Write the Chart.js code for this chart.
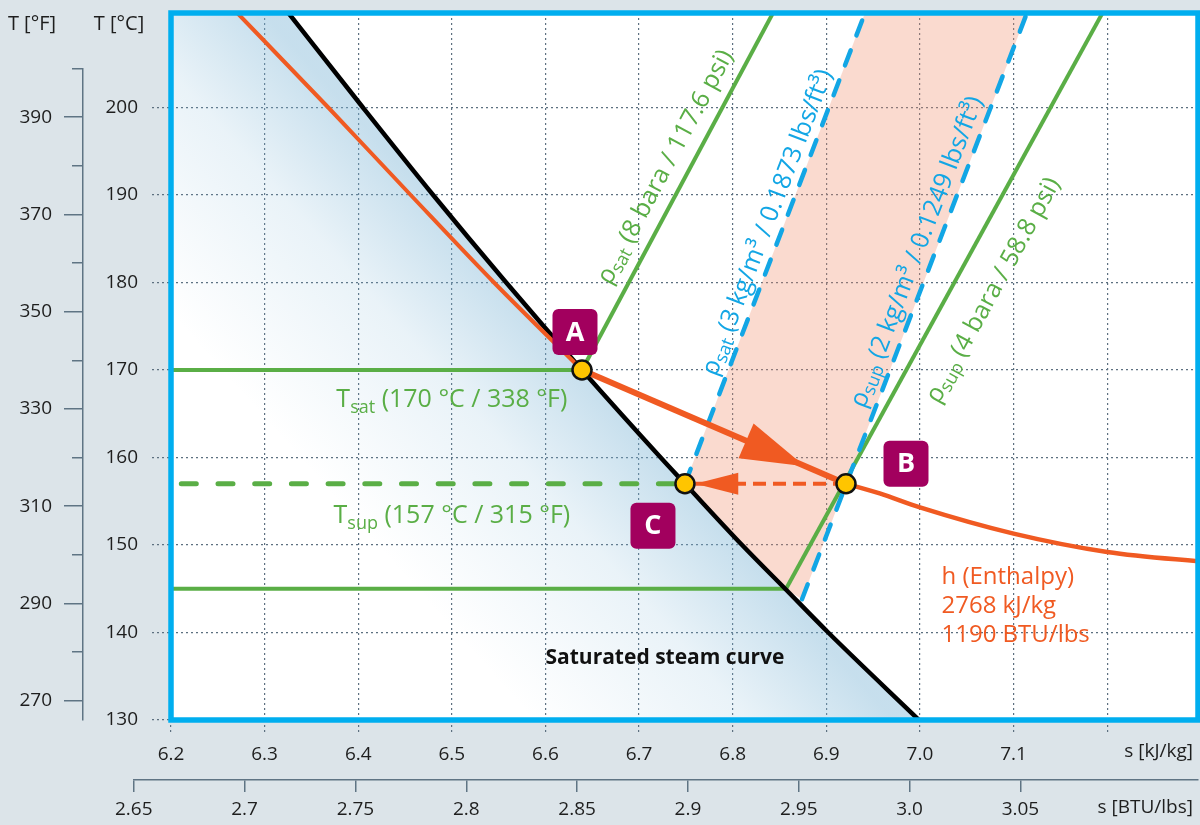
<!DOCTYPE html>
<html>
<head>
<meta charset="utf-8">
<title>T-s diagram</title>
<script src="https://cdn.jsdelivr.net/npm/chart.js@4.4.1/dist/chart.umd.min.js"></script>
<style>
  html, body { margin: 0; padding: 0; background: #dce4e9; overflow: hidden; }
  canvas { display: block; }
</style>
</head>
<body>
<canvas id="tsChart" width="1200" height="825"></canvas>
<script>
// values: s in kJ/kg K, T in °C
const satCurveT = [211, 200, 190, 180, 170, 160, 157, 150, 145, 140, 130];
const satCurveS = [6.324, 6.405, 6.480, 6.558, 6.639, 6.723, 6.749, 6.810, 6.856, 6.902, 6.999];

// h = 2768 kJ/kg, wet part (above A) and superheated part (after B)
const enthalpyWetT = [211, 200, 190, 180, 170];
const enthalpyWetS = [6.269, 6.368, 6.456, 6.545, 6.639];
const enthalpySupT = [157, 155.9, 154.3, 151.3, 149.2, 148.0];
const enthalpySupS = [6.921, 6.957, 7.0, 7.1, 7.2, 7.31];

// isobars 8 / 4 bara and isochores 3 / 2 kg/m3
const isobar8T = [170, 211];
const isobar8S = [6.639, 6.844];
const isobar4T = [145, 211];
const isobar4S = [6.857, 7.196];
const density3T = [157, 211];
const density3S = [6.749, 6.942];
const density2T = [143.8, 211];
const density2S = [6.874, 7.115];

// state points
const stateNames = ['A', 'B', 'C'];
const stateT = [170, 157, 157];
const stateS = [6.639, 6.921, 6.749];

const tSat = 170, tSup = 157, tSat4 = 145;
const dashStartS = 6.211;

// arrow tips (A -> B, B -> C)
const arrowTipS = [6.877, 6.760];
const arrowTipT = [159.0, 157];

// axes
const sMin = 6.2, sMax = 7.297, tMin = 130, tMax = 210.8;
const btuAtSMin = 2.6668, btuAtSMax = 3.1301;
const celsiusTicks = [130, 140, 150, 160, 170, 180, 190, 200];
const fahrenheitTicks = [270, 280, 290, 300, 310, 320, 330, 340, 350, 360, 370, 380, 390, 400];
const fahrenheitLabels = ['270', '', '290', '', '310', '', '330', '', '350', '', '370', '', '390', ''];
const kjTicks = [6.2, 6.3, 6.4, 6.5, 6.6, 6.7, 6.8, 6.9, 7.0, 7.1, 7.2];
const kjLabels = ['6.2', '6.3', '6.4', '6.5', '6.6', '6.7', '6.8', '6.9', '7.0', '7.1', ''];
const btuTicks = [2.65, 2.7, 2.75, 2.8, 2.85, 2.9, 2.95, 3.0, 3.05];
const btuLabels = ['2.65', '2.7', '2.75', '2.8', '2.85', '2.9', '2.95', '3.0', '3.05'];

const GREEN = '#5aae46';
const BLUE = '#12a6e5';
const ORANGE = '#f05a22';
const FRAME = '#00aeef';
const BADGE = '#a2005e';
const YELLOW = '#ffc500';
const GRID = '#5d7080';
const AXIS = '#5f7484';
const INK = '#1e1e1e';
const FONT = "'Open Sans', 'Noto Sans', sans-serif";

Chart.defaults.font.family = FONT;
Chart.defaults.font.size = 19;
Chart.defaults.color = INK;

const toF = (c) => c * 1.8 + 32;

function xy(xs, ys) {
    return xs.map((x, i) => ({x: x, y: ys[i]}));
}

function line(xs, ys, color, width, order, more) {
    return Object.assign({
        data: xy(xs, ys),
        showLine: true,
        borderColor: color,
        borderWidth: width,
        pointRadius: 0,
        fill: false,
        tension: 0,
        order: order,
    }, more || {});
}

// blue tint of the wet steam region, fading away from the saturated steam curve
function wetGradient(c) {
    const chart = c.chart;
    if (!chart.chartArea) return 'rgba(0,0,0,0)';
    const sx = chart.scales.x, sy = chart.scales.y;
    const n = satCurveS.length - 1;
    const x0 = sx.getPixelForValue(satCurveS[0]), y0 = sy.getPixelForValue(satCurveT[0]);
    const x1 = sx.getPixelForValue(satCurveS[n]), y1 = sy.getPixelForValue(satCurveT[n]);
    const len = Math.hypot(x1 - x0, y1 - y0);
    const nx = -(y1 - y0) / len, ny = (x1 - x0) / len;
    const ax = sx.getPixelForValue(stateS[0]), ay = sy.getPixelForValue(stateT[0]);
    const g = chart.ctx.createLinearGradient(ax, ay, ax + nx * 360, ay + ny * 360);
    g.addColorStop(0, 'rgba(120,178,212,0.42)');
    g.addColorStop(0.3, 'rgba(120,178,212,0.16)');
    g.addColorStop(0.75, 'rgba(120,178,212,0)');
    return g;
}

// wet region: saturated curve filled down to the bottom; its first segment is
// continued up to the left edge so the smoothed outline stays on the curve
const leadT = satCurveT[0] + (satCurveT[0] - satCurveT[1]) / (satCurveS[1] - satCurveS[0]) * (satCurveS[0] - sMin);
const wetS = [sMin].concat(satCurveS);
const wetT = [leadT].concat(satCurveT);

// superheat band between the two isochores, closed along the saturated curve
const pinkS = [], pinkT = [];
density3S.forEach((s, i) => { pinkS.push(s); pinkT.push(density3T[i]); });
pinkS.push(density2S[1], density2S[0]);
pinkT.push(density2T[1], density2T[0]);
for (let i = satCurveT.length - 1; i >= 0; i--) {
    if (satCurveT[i] > density2T[0] && satCurveT[i] < density3T[0]) {
        pinkS.push(satCurveS[i]);
        pinkT.push(satCurveT[i]);
    }
}

const smooth = {cubicInterpolationMode: 'monotone'};

const datasets = [
    line(wetS, wetT, 'rgba(0,0,0,0)', 0, 10, Object.assign({fill: 'start', backgroundColor: wetGradient}, smooth)),
    line(pinkS, pinkT, 'rgba(0,0,0,0)', 0, 9, {fill: 'shape', backgroundColor: 'rgba(241,140,105,0.32)'}),
    line([sMin, stateS[0]], [tSat, tSat], GREEN, 4, 8),
    line([sMin, isobar4S[0]], [tSat4, tSat4], GREEN, 4, 8),
    line([dashStartS, stateS[2]], [tSup, tSup], GREEN, 5, 8, {borderDash: [15, 21.7], borderCapStyle: 'round'}),
    line(isobar8S, isobar8T, GREEN, 4, 8),
    line(isobar4S, isobar4T, GREEN, 4, 8),
    line(density3S, density3T, BLUE, 4.5, 7, {borderDash: [16, 16], borderCapStyle: 'round'}),
    line(density2S, density2T, BLUE, 4.5, 7, {borderDash: [16, 16], borderCapStyle: 'round'}),
    line(satCurveS, satCurveT, '#000000', 4.5, 6, smooth),
    line(enthalpyWetS, enthalpyWetT, ORANGE, 4, 5, smooth),
    line(enthalpySupS, enthalpySupT, ORANGE, 4.5, 5, smooth),
    line([stateS[1], arrowTipS[1]], [stateT[1], arrowTipT[1]], ORANGE, 4, 4, {borderDash: [13, 7]}),
    line([stateS[0], stateS[1]], [stateT[0], stateT[1]], ORANGE, 6, 3),
    {
        data: xy(stateS, stateT),
        showLine: false,
        pointRadius: 9.5,
        pointBackgroundColor: YELLOW,
        pointBorderColor: '#111111',
        pointBorderWidth: 2.5,
        order: 0,
        clip: false,
    },
];
const AB_INDEX = 13;

function arrowHead(ctx, tip, from, len, half) {
    const ang = Math.atan2(tip.y - from.y, tip.x - from.x);
    const bx = tip.x - Math.cos(ang) * len, by = tip.y - Math.sin(ang) * len;
    const nx = -Math.sin(ang) * half, ny = Math.cos(ang) * half;
    ctx.beginPath();
    ctx.moveTo(tip.x, tip.y);
    ctx.lineTo(bx + nx, by + ny);
    ctx.lineTo(bx - nx, by - ny);
    ctx.closePath();
    ctx.fill();
}

// text with subscripts: parts = [[text, isSub], ...]
function drawRich(ctx, parts, x, y, size, color, weight, align) {
    let w = 0;
    parts.forEach(([t, sub]) => {
        ctx.font = `${weight} ${sub ? size * 0.72 : size}px ${FONT}`;
        w += ctx.measureText(t).width;
    });
    let cx = align === 'center' ? x - w / 2 : (align === 'right' ? x - w : x);
    ctx.fillStyle = color;
    ctx.textAlign = 'left';
    parts.forEach(([t, sub]) => {
        ctx.font = `${weight} ${sub ? size * 0.72 : size}px ${FONT}`;
        ctx.fillText(t, cx, sub ? y + size * 0.24 : y);
        cx += ctx.measureText(t).width;
    });
}

// rotated label following a straight line, offset to its upper side
function labelAlong(chart, xs, ys, atT, offset, parts, color, size) {
    const sx = chart.scales.x, sy = chart.scales.y;
    const x0 = sx.getPixelForValue(xs[0]), y0 = sy.getPixelForValue(ys[0]);
    const x1 = sx.getPixelForValue(xs[1]), y1 = sy.getPixelForValue(ys[1]);
    const ang = Math.atan2(y1 - y0, x1 - x0);
    const f = (atT - ys[0]) / (ys[1] - ys[0]);
    const px = sx.getPixelForValue(xs[0] + f * (xs[1] - xs[0])) + Math.sin(ang) * offset;
    const py = sy.getPixelForValue(atT) - Math.cos(ang) * offset;
    const ctx = chart.ctx;
    ctx.save();
    ctx.translate(px, py);
    ctx.rotate(ang);
    ctx.textBaseline = 'middle';
    drawRich(ctx, parts, 0, 0, size, color, 'normal', 'center');
    ctx.restore();
}

const axisLinks = {
    id: 'axisLinks',
    afterLayout(chart) {
        // °F axis stops at its last tick, BTU axis starts at its first tick
        const f = chart.scales.yF, b = chart.scales.xb;
        const fTop = fahrenheitTicks[fahrenheitTicks.length - 1];
        f.top = f.getPixelForValue(fTop);
        f.max = fTop;
        f.configure();
        const bLeft = btuTicks[0];
        b.left = b.getPixelForValue(bLeft);
        b.min = bLeft;
        b.configure();
    },
};

const annotations = {
    id: 'annotations',
    beforeDraw(chart) {
        const {ctx, chartArea: a} = chart;
        ctx.save();
        ctx.fillStyle = '#ffffff';
        ctx.fillRect(a.left, a.top, a.width, a.height);
        ctx.restore();
    },
    afterDatasetDraw(chart, args) {
        if (args.index !== AB_INDEX) return;
        const {ctx} = chart;
        const sx = chart.scales.x, sy = chart.scales.y;
        const px = (s, t) => ({x: sx.getPixelForValue(s), y: sy.getPixelForValue(t)});
        ctx.save();
        ctx.fillStyle = ORANGE;
        arrowHead(ctx, px(arrowTipS[0], arrowTipT[0]), px(stateS[0], stateT[0]), 64, 19);
        arrowHead(ctx, px(arrowTipS[1], arrowTipT[1]), px(stateS[1], stateT[1]), 43, 11);
        ctx.restore();
    },
    afterDatasetsDraw(chart) {
        const {ctx, chartArea: a} = chart;
        const sx = chart.scales.x, sy = chart.scales.y;
        const px = (s, t) => ({x: sx.getPixelForValue(s), y: sy.getPixelForValue(t)});
        ctx.save();

        ctx.strokeStyle = FRAME;
        ctx.lineWidth = 5.5;
        ctx.strokeRect(a.left, a.top, a.width, a.height);

        const badgeDx = [-7, 60, -32], badgeDy = [-38, -20, 42];
        stateNames.forEach((n, i) => {
            const p = px(stateS[i], stateT[i]);
            const bx = p.x + badgeDx[i], by = p.y + badgeDy[i];
            ctx.fillStyle = BADGE;
            ctx.beginPath();
            ctx.roundRect(bx - 22.5, by - 23, 45, 46, 6);
            ctx.fill();
            ctx.fillStyle = '#ffffff';
            ctx.font = `bold 27px ${FONT}`;
            ctx.textAlign = 'center';
            ctx.textBaseline = 'middle';
            ctx.fillText(n, bx, by + 1);
        });

        ctx.textBaseline = 'alphabetic';
        const cx = sx.getPixelForValue(6.5);
        drawRich(ctx, [['T'], ['sat', true], [` (${tSat} °C / ${Math.round(toF(tSat))} °F)`]],
            cx, sy.getPixelForValue(tSat) + 37, 25, GREEN, 'normal', 'center');
        drawRich(ctx, [['T'], ['sup', true], [` (${tSup} °C / ${Math.round(toF(tSup))} °F)`]],
            cx, sy.getPixelForValue(tSup) + 39, 25, GREEN, 'normal', 'center');

        ctx.fillStyle = '#111111';
        ctx.font = `bold 21px ${FONT}`;
        ctx.textAlign = 'left';
        const st = px(6.6, 136.4);
        ctx.fillText('Saturated steam curve', st.x, st.y);

        ctx.fillStyle = ORANGE;
        ctx.font = `24px ${FONT}`;
        const hp = px(7.023, 145.6);
        ['h (Enthalpy)', '2768 kJ/kg', '1190 BTU/lbs'].forEach((t, i) => ctx.fillText(t, hp.x, hp.y + i * 29));

        labelAlong(chart, isobar8S, isobar8T, 192, 22, [['ρ'], ['sat', true], [' (8 bara / 117.6 psi)']], GREEN, 25);
        labelAlong(chart, density3S, density3T, 186.2, 16, [['ρ'], ['sat', true], [' (3 kg/m³ / 0.1873 lbs/ft³)']], BLUE, 25);
        labelAlong(chart, density2S, density2T, 182.8, 17, [['ρ'], ['sup', true], [' (2 kg/m³ / 0.1249 lbs/ft³)']], BLUE, 25);
        labelAlong(chart, isobar4S, isobar4T, 181.2, -38, [['ρ'], ['sup', true], [' (4 bara / 58.8 psi)']], GREEN, 25);

        // axis titles
        const f = chart.scales.yF, b = chart.scales.xb;
        ctx.fillStyle = INK;
        ctx.font = `20px ${FONT}`;
        ctx.textBaseline = 'middle';
        ctx.textAlign = 'center';
        ctx.fillText('T [°F]', f.left + 32, a.top + 11);
        ctx.fillText('T [°C]', sy.left + 36, a.top + 11);
        ctx.font = `19px ${FONT}`;
        ctx.textAlign = 'right';
        ctx.fillText('s [kJ/kg]', a.right - 5, a.bottom + 32);
        ctx.fillText('s [BTU/lbs]', a.right - 5, b.top + 28);
        ctx.restore();
    },
};

new Chart(document.getElementById('tsChart'), {
    type: 'scatter',
    data: {datasets: datasets},
    options: {
        responsive: false,
        animation: false,
        events: [],
        layout: {padding: {top: 13, right: 2, left: 0, bottom: 0}, autoPadding: false},
        plugins: {legend: {display: false}, tooltip: {enabled: false}},
        scales: {
            x: {
                type: 'linear', position: 'bottom', weight: 0, min: sMin, max: sMax,
                afterBuildTicks: (s) => { s.ticks = kjTicks.map(v => ({value: v})); },
                afterFit: (s) => { s.height = 60; s.paddingLeft = 0; s.paddingRight = 0; },
                grid: {color: GRID, lineWidth: 1.2, tickLength: 15, tickColor: GRID, tickWidth: 1.2, tickBorderDash: [2, 3]},
                border: {display: false, dash: [2, 3]},
                ticks: {autoSkip: false, maxRotation: 0, padding: 8, callback: (v, i) => kjLabels[i]},
            },
            xb: {
                type: 'linear', position: 'bottom', weight: 1, min: btuAtSMin, max: btuAtSMax,
                afterBuildTicks: (s) => { s.ticks = btuTicks.map(v => ({value: v})); },
                afterFit: (s) => { s.height = 45; s.paddingLeft = 0; s.paddingRight = 0; },
                grid: {drawOnChartArea: false, color: AXIS, lineWidth: 1.5, tickLength: 12},
                border: {color: AXIS, width: 1.5},
                ticks: {autoSkip: false, maxRotation: 0, padding: 6, callback: (v, i) => btuLabels[i]},
            },
            y: {
                type: 'linear', position: 'left', weight: 1, min: tMin, max: tMax,
                afterBuildTicks: (s) => { s.ticks = celsiusTicks.map(v => ({value: v})); },
                afterFit: (s) => { s.width = 88; s.paddingTop = 0; s.paddingBottom = 0; },
                grid: {color: GRID, lineWidth: 1.2, tickLength: 19, tickColor: GRID, tickWidth: 1.2, tickBorderDash: [2, 3]},
                border: {display: false, dash: [2, 3]},
                ticks: {autoSkip: false, padding: 14},
            },
            yF: {
                type: 'linear', position: 'left', weight: 2, min: toF(tMin), max: toF(tMax),
                afterBuildTicks: (s) => { s.ticks = fahrenheitTicks.map(v => ({value: v})); },
                afterFit: (s) => { s.width = 83; s.paddingTop = 0; s.paddingBottom = 0; },
                grid: {
                    drawOnChartArea: false, color: AXIS, lineWidth: 1.5, tickLength: 19,
                    tickBorderDash: (c) => fahrenheitLabels[c.index] ? [] : [0, 8, 11, 0],
                },
                border: {color: AXIS, width: 1.5},
                ticks: {autoSkip: false, padding: 12, callback: (v, i) => fahrenheitLabels[i]},
            },
        },
    },
    plugins: [axisLinks, annotations],
});
</script>
</body>
</html>
